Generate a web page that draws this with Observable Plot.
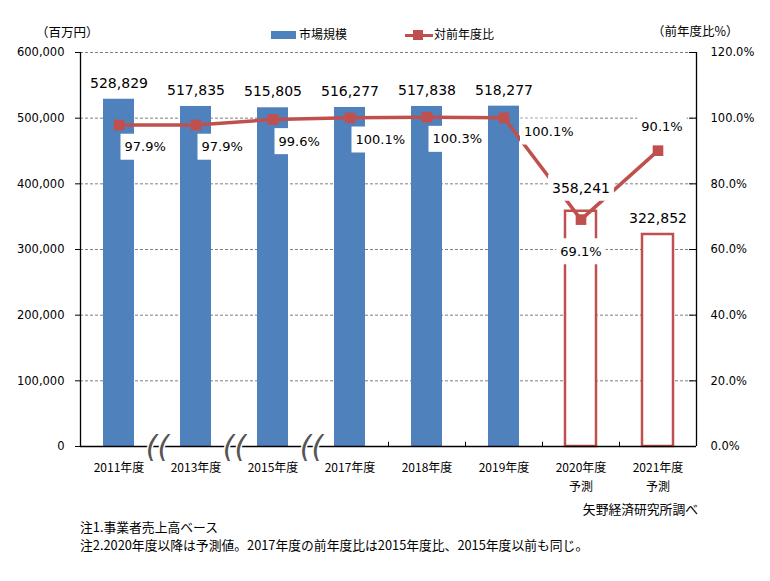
<!DOCTYPE html>
<html>
<head>
<meta charset="utf-8">
<script src="https://cdn.jsdelivr.net/npm/d3@7"></script>
<script src="https://cdn.jsdelivr.net/npm/@observablehq/plot@0.6"></script>
<style>
  html, body { margin: 0; padding: 0; background: #fff; }
  #wrap { position: relative; width: 770px; height: 581px; font-family: 'Noto Sans CJK JP', sans-serif; color: #000; }
  .abs { position: absolute; white-space: nowrap; line-height: 1; }
</style>
</head>
<body>
<div id="wrap"></div>
<script>
// ---- data ----
const categories = ["2011年度", "2013年度", "2015年度", "2017年度", "2018年度", "2019年度", "2020年度", "2021年度"];
const subLabels = ["", "", "", "", "", "", "予測", "予測"];
const marketSize = [528829, 517835, 515805, 516277, 517838, 518277, 358241, 322852];
const yoyPct = [97.9, 97.9, 99.6, 100.1, 100.3, 100.1, 69.1, 90.1];
const isForecast = [false, false, false, false, false, false, true, true];
const leftTicks = [0, 100000, 200000, 300000, 400000, 500000, 600000];
const rightTicks = [0, 20, 40, 60, 80, 100, 120];
const brokenAfter = ["2011年度", "2013年度", "2015年度"];
const boundaryTicksAfter = ["2017年度", "2018年度", "2019年度", "2020年度"];
const legendLabels = ["市場規模", "対前年度比"];
const leftTitle = "（百万円）";
const rightTitle = "（前年度比%）";
const sourceText = "矢野経済研究所調べ";
const notes = ["注1.事業者売上高ベース", "注2.2020年度以降は予測値。2017年度の前年度比は2015年度比、2015年度以前も同じ。"];

const BLUE = "#4F81BD";
const RED = "#C0504D";
const LATIN = "DejaVu Sans";
const pctScale = 600000 / 120; // right axis 120% <-> left axis 600,000

const rows = categories.map((c, i) => ({cat: c, value: marketSize[i], pct: yoyPct[i], forecast: isForecast[i]}));
const fmt = d3.format(",");
const pfmt = p => p.toFixed(1) + "%";
const half = 77 / 2;

const plot = Plot.plot({
  width: 770,
  height: 581,
  marginTop: 52,
  marginBottom: 135,
  marginLeft: 80,
  marginRight: 74,
  style: {fontFamily: "'Noto Sans CJK JP', sans-serif", fontSize: "12px", color: "#000", background: "#fff"},
  x: {type: "band", domain: categories, paddingInner: 0.6, paddingOuter: 0.3, label: null},
  y: {domain: [0, 600000], label: null},
  marks: [
    Plot.gridY(leftTicks.slice(1), {stroke: "#7f7f7f", strokeOpacity: 1, strokeDasharray: "3,2", strokeWidth: 1}),
    Plot.axisY(leftTicks, {anchor: "left", tickSize: 5, tickPadding: 11, tickFormat: d => fmt(d), fontFamily: LATIN, fontSize: 11.5, label: null}),
    Plot.axisY(rightTicks.map(p => p * pctScale), {anchor: "right", tickSize: 0, tickPadding: 14, tickFormat: d => (d / pctScale).toFixed(1) + "%", fontFamily: LATIN, fontSize: 11.5, textAnchor: "start", label: null}),
    Plot.ruleY(rightTicks.slice(1).map(p => p * pctScale), {stroke: "#000", insetLeft: 609}),
    Plot.axisX({tickSize: 0, tickPadding: 11, fontSize: 12, lineHeight: 1.65, lineAnchor: "top",
      tickFormat: d => { const i = categories.indexOf(d); return subLabels[i] ? d + "\n" + subLabels[i] : d; }, label: null}),
    Plot.barY(rows.filter(d => !d.forecast), {x: "cat", y: "value", fill: BLUE}),
    Plot.barY(rows.filter(d => d.forecast), {x: "cat", y: "value", fill: "#fff", stroke: RED, strokeWidth: 2.5}),
    Plot.ruleY([0], {stroke: "#000", strokeWidth: 1.3}),
    Plot.ruleX([categories[0]], {y1: 0, y2: 600000, dx: -half, stroke: "#000", strokeWidth: 1.3}),
    Plot.ruleX([categories[categories.length - 1]], {y1: 0, y2: 600000, dx: half, stroke: "#000", strokeWidth: 1.3}),
    Plot.ruleX(boundaryTicksAfter, {y1: 0, y2: 6500, dx: half, stroke: "#000"}),
    Plot.text(brokenAfter, {x: d => d, y: () => 0, text: () => "((", dx: half, dy: 1, fontSize: 30, fontStyle: "italic", fontWeight: 300, fontFamily: LATIN, fill: "#555", stroke: "#fff", strokeWidth: 3, paintOrder: "stroke", letterSpacing: "1px"}),
    Plot.line(rows, {x: "cat", y: d => d.pct * pctScale, stroke: RED, strokeWidth: 3.5}),
    Plot.dot(rows, {x: "cat", y: d => d.pct * pctScale, symbol: "square", r: 6, fill: RED, stroke: null}),
    // bar value labels
    Plot.text(rows.filter(d => d.cat !== "2020年度"), {x: "cat", y: "value", text: d => fmt(d.value), dy: -16, fontFamily: LATIN, fontSize: 14, fill: "#000"}),
    Plot.text(rows.filter(d => d.cat === "2020年度"), {x: "cat", y: "value", text: d => fmt(d.value), dy: -23, fontFamily: LATIN, fontSize: 14, fill: "#000"}),
    // percent labels
    Plot.text(rows.slice(0, 5), {x: "cat", y: d => d.pct * pctScale, text: d => pfmt(d.pct), textAnchor: "start", dx: 5.5, dy: 22, fontFamily: LATIN, fontSize: 13, fill: "#000"}),
    Plot.text(rows.filter(d => d.cat === "2019年度"), {x: "cat", y: d => d.pct * pctScale, text: d => pfmt(d.pct), textAnchor: "start", dx: 20, dy: 14, fontFamily: LATIN, fontSize: 13, fill: "#000"}),
    Plot.text(rows.filter(d => d.cat === "2020年度"), {x: "cat", y: d => d.pct * pctScale, text: d => pfmt(d.pct), dy: 32, fontFamily: LATIN, fontSize: 13, fill: "#000"}),
    Plot.text(rows.filter(d => d.cat === "2021年度"), {x: "cat", y: d => d.pct * pctScale, text: d => pfmt(d.pct), dx: 4, dy: -24, fontFamily: LATIN, fontSize: 13, fill: "#000"})
  ]
});

const wrap = document.getElementById("wrap");
wrap.appendChild(plot);

// white label boxes behind data labels (like the spreadsheet's label fills)
const boxedStrings = new Set([...marketSize.map(fmt), ...yoyPct.map(pfmt)]);
const ns = "http://www.w3.org/2000/svg";
plot.querySelectorAll("text").forEach(t => {
  if (!boxedStrings.has(t.textContent)) return;
  if (t.closest('g[aria-label^="y-axis"]')) return;
  const b = t.getBBox();
  const r = document.createElementNS(ns, "rect");
  const cy = b.y + b.height / 2;
  r.setAttribute("x", b.x - 4);
  r.setAttribute("y", cy - 13);
  r.setAttribute("width", b.width + 8);
  r.setAttribute("height", 26);
  r.setAttribute("fill", "#fff");
  if (t.getAttribute("transform")) r.setAttribute("transform", t.getAttribute("transform"));
  t.parentNode.insertBefore(r, t);
});

// legend, axis titles, source and notes (HTML text around the chart)
function addText(txt, css) {
  const d = document.createElement("div");
  d.className = "abs";
  d.textContent = txt;
  Object.assign(d.style, css);
  wrap.appendChild(d);
  return d;
}
function addBox(css) {
  const d = document.createElement("div");
  d.className = "abs";
  Object.assign(d.style, css);
  wrap.appendChild(d);
}
addText(leftTitle, {left: "36px", top: "26px", fontSize: "12.5px"});
addText(rightTitle, {left: "652px", top: "25px", fontSize: "12.5px"});
addBox({left: "271px", top: "31px", width: "25px", height: "8px", background: BLUE});
addText(legendLabels[0], {left: "299px", top: "28px", fontSize: "12px"});
addBox({left: "405px", top: "33.5px", width: "28px", height: "3px", background: RED});
addBox({left: "413px", top: "30px", width: "10px", height: "10px", background: RED});
addText(legendLabels[1], {left: "434px", top: "28px", fontSize: "12px"});
addText(sourceText, {right: "72px", top: "503px", fontSize: "12.8px"});
addText(notes[0], {left: "80px", top: "521px", fontSize: "12.8px"});
addText(notes[1], {left: "80px", top: "539px", fontSize: "12.8px"});
</script>
</body>
</html>
